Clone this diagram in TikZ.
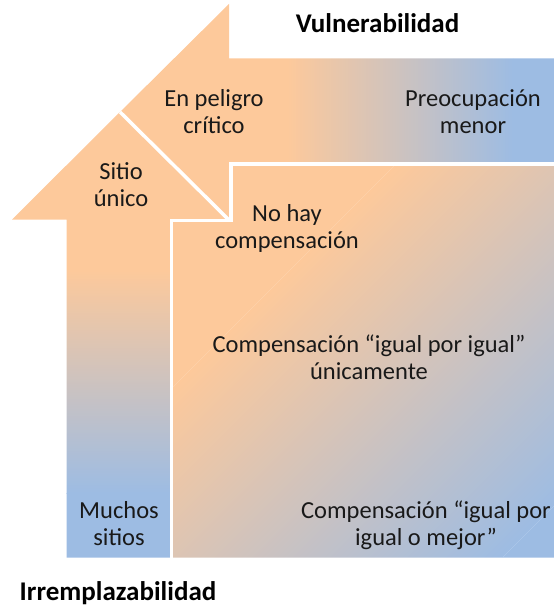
\documentclass[tikz,border=0pt]{standalone}
\usepackage{fontspec}
\setmainfont{Carlito}
\definecolor{peach}{HTML}{FDC99B}
\definecolor{sky}{HTML}{9DBCE3}
\begin{document}
\begin{tikzpicture}[x=1pt,y=-1pt]
\tikzstyle{lbl}=[align=center,inner sep=0pt,anchor=base,text=black!90,font=\fontsize{24.5}{27}\selectfont];
\tikzstyle{axislbl}=[inner sep=0pt,anchor=base,text=black,font=\fontsize{27}{30}\selectfont\bfseries];
\tikzstyle{gap}=[draw=white,line width=3.5pt];
\useasboundingbox (0,0) rectangle (554,607);

% upward arrow (Irremplazabilidad)
\begin{scope}
\clip (66.5,557.5) -- (66.5,219.5) -- (12,219.5) -- (120,112) -- (229.5,220.5) -- (171.5,220.5) -- (171.5,557.5) -- cycle;
\fill[peach] (0,100) rectangle (240,270);
\shade[top color=peach,bottom color=sky] (0,270) rectangle (240,493);
\fill[sky] (0,493) rectangle (240,560);
\end{scope}

% leftward arrow (Vulnerabilidad)
\begin{scope}
\clip (120,112) -- (229,4) -- (229,58.5) -- (554,58.5) -- (554,164) -- (231,164) -- (231,220.5) -- (229.5,220.5) -- cycle;
\fill[peach] (100,0) rectangle (287,230);
\shade[left color=peach,right color=sky] (287,0) rectangle (513,230);
\fill[sky] (513,0) rectangle (556,230);
\end{scope}

% compensation block, diagonal blend
\begin{scope}
\clip (171.5,557.5) -- (171.5,220.5) -- (231,220.5) -- (231,164) -- (554,164) -- (554,557.5) -- cycle;
\begin{scope}[transform canvas={rotate=-45}]
\fill[peach] (230,-290) rectangle (396,290);
\shade[left color=peach,right color=sky] (396,-290) rectangle (749.5,290);
\fill[sky] (749.5,-290) rectangle (800,290);
\end{scope}
\end{scope}

% white gaps
\draw[gap] (120,112) -- (229.5,220.5);
\draw[gap] (231,164) -- (231,220.5) -- (171.5,220.5) -- (171.5,559);
\draw[gap] (229,164) -- (556,164);

% base = last line
\node[lbl] (critico) at (214,133.5) {En peligro\\crítico};
\node[lbl] (menor) at (473,133.5) {Preocupación\\menor};
\node[lbl] (unico) at (121,206.5) {Sitio\\único};
\node[lbl] (nocomp) at (287,248.5) {No hay\\compensación};
\node[lbl] (igual) at (369,379.5) {Compensación “igual por igual”\\únicamente};
\node[lbl] (muchos) at (119,545) {Muchos\\sitios};
\node[lbl] (mejor) at (426,545) {Compensación “igual por\\igual o mejor”};

\node[axislbl] (vuln) at (377.5,33) {Vulnerabilidad};
\node[axislbl] (irrem) at (118,600) {Irremplazabilidad};
\end{tikzpicture}
\end{document}
